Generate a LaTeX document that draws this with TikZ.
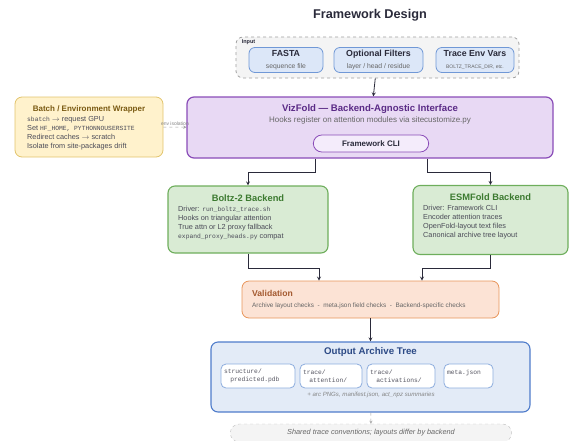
\documentclass[tikz,border=0pt]{standalone}
\usepackage{fontspec}
\setmainfont{Liberation Sans}
\setsansfont{Liberation Sans}
\setmonofont{Liberation Mono}
\usetikzlibrary{arrows, positioning, calc, shapes.misc}
\usepackage{xcolor}
\definecolor{inkdark}{HTML}{2A2A3A}
\definecolor{subgray}{HTML}{666666}
\definecolor{grpfill}{HTML}{F4F4F4}
\definecolor{grpline}{HTML}{A0A0A0}
\definecolor{bluefill}{HTML}{DCE7F8}
\definecolor{blueline}{HTML}{7098D6}
\definecolor{purpfill}{HTML}{E8D9F4}
\definecolor{purpline}{HTML}{8A4CB8}
\definecolor{purpink}{HTML}{5A2A86}
\definecolor{pillfill}{HTML}{F4ECFB}
\definecolor{yelfill}{HTML}{FFF2CC}
\definecolor{yelline}{HTML}{E2C46C}
\definecolor{yelink}{HTML}{7A5A12}
\definecolor{grnfill}{HTML}{D9EBD4}
\definecolor{grnline}{HTML}{6EAE5C}
\definecolor{grnink}{HTML}{3C7A30}
\definecolor{orgfill}{HTML}{FCE3D5}
\definecolor{orgline}{HTML}{E8955A}
\definecolor{orgink}{HTML}{A45A30}
\definecolor{outfill}{HTML}{E3EBF7}
\definecolor{outline}{HTML}{4F7CCB}
\definecolor{outink}{HTML}{2C4A86}
\newcommand{\mono}[1]{{\ttfamily\fontsize{6.3}{9}\selectfont #1}}
\tikzstyle{grp} = [rectangle, rounded corners=7pt, draw=grpline, dashed, fill=grpfill, thick]
\tikzstyle{inbox} = [rectangle, rounded corners=6pt, draw=blueline, fill=bluefill, thick, align=center, inner sep=0pt]
\tikzstyle{wrapbox} = [rectangle, rounded corners=7pt, draw=yelline, fill=yelfill, thick]
\tikzstyle{vizbox} = [rectangle, rounded corners=7pt, draw=purpline, fill=purpfill, line width=1.2pt]
\tikzstyle{pill} = [rounded rectangle, draw=purpline, fill=pillfill, thick, font=\fontsize{8}{9}\selectfont\bfseries, text=inkdark]
\tikzstyle{backend} = [rectangle, rounded corners=7pt, draw=grnline, fill=grnfill, line width=1.1pt]
\tikzstyle{checkbox} = [rectangle, rounded corners=7pt, draw=orgline, fill=orgfill, thick]
\tikzstyle{archive} = [rectangle, rounded corners=7pt, draw=outline, fill=outfill, line width=1.1pt]
\tikzstyle{leaf} = [rectangle, rounded corners=5pt, draw=blueline!80, fill=white, thick, align=left, inner sep=3pt, minimum height=24pt, font=\ttfamily\fontsize{6.3}{8.5}\selectfont, text=inkdark!80]
\tikzstyle{body} = [anchor=north west, align=left, inner sep=0pt, font=\fontsize{7.3}{9}\selectfont, text=inkdark!85]
\tikzstyle{arrow} = [thick, ->, >=stealth, draw=inkdark]

\begin{document}
\begin{tikzpicture}[x=1pt, y=-1pt]
    \useasboundingbox (0,0) rectangle (573,440);
    \node (title) at (370,15) {\fontsize{12.7}{14}\selectfont\bfseries\color{inkdark}Framework Design};

    % input group
    \node (input) [grp, minimum width=283pt, minimum height=41pt] at (377.5,57.5) {};
    \node [anchor=north west, inner sep=0pt, font=\fontsize{5.5}{6}\selectfont\bfseries, text=inkdark] at ($(input.north west)+(6,3)$) {Input};
    \node (fasta) [inbox, minimum width=74pt, minimum height=25pt] at (286,60) {\fontsize{8.8}{10}\selectfont\bfseries\color{inkdark}FASTA\\\fontsize{6.8}{7}\selectfont\color{subgray}sequence file};
    \node (filt) [inbox, minimum width=89pt, minimum height=25pt] at (378.5,60) {\fontsize{8.8}{10}\selectfont\bfseries\color{inkdark}Optional Filters\\\fontsize{6.8}{7}\selectfont\color{subgray}layer / head / residue};
    \node (envv) [inbox, minimum width=78pt, minimum height=25pt] at (475,60) {\fontsize{8.8}{10}\selectfont\bfseries\color{inkdark}Trace Env Vars\\\fontsize{5}{7}\selectfont\color{subgray}BOLTZ\_TRACE\_DIR, etc.};

    % interface
    \node (viz) [vizbox, minimum width=366pt, minimum height=61pt] at (370,127.5) {};
    \node [font=\fontsize{9.6}{11}\selectfont\bfseries, text=purpink] at ($(viz.north)+(0,13)$) {VizFold --- Backend-Agnostic Interface};
    \node [font=\fontsize{8}{9}\selectfont, text=subgray] at ($(viz.north)+(0,24)$) {Hooks register on attention modules via sitecustomize.py};
    \node (cli) [pill, minimum width=122pt, minimum height=17pt] at (371,143.5) {Framework CLI};

    % wrapper
    \node (wrap) [wrapbox, minimum width=148pt, minimum height=60pt] at (89,127) {};
    \node [font=\fontsize{8}{9}\selectfont\bfseries, text=yelink] at ($(wrap.north)+(0,13)$) {Batch / Environment Wrapper};
    \node [body] at (27,116.5) {\mono{sbatch} $\rightarrow$ request GPU\\
        Set \mono{HF\_HOME, PYTHONNOUSERSITE}\\
        Redirect caches $\rightarrow$ scratch\\
        Isolate from site-packages drift};

    % backends
    \node (boltz) [backend, minimum width=160pt, minimum height=67pt] at (248,219.5) {};
    \node [font=\fontsize{9.3}{10}\selectfont\bfseries, text=grnink] at ($(boltz.north)+(0,13)$) {Boltz-2 Backend};
    \node [body] at (178,206) {Driver: \mono{run\_boltz\_trace.sh}\\
        Hooks on triangular attention\\
        True attn or L2 proxy fallback\\
        \mono{expand\_proxy\_heads.py} compat};
    \node (esm) [backend, minimum width=155pt, minimum height=69pt] at (490.5,220) {};
    \node [font=\fontsize{9.3}{10}\selectfont\bfseries, text=grnink] at ($(esm.north)+(0,12)$) {ESMFold Backend};
    \node [body] at (423,205) {Driver: Framework CLI\\
        Encoder attention traces\\
        OpenFold-layout text files\\
        Canonical archive tree layout};

    % checks
    \node (valid) [checkbox, minimum width=257pt, minimum height=37pt] at (370.5,299.5) {};
    \node [anchor=west, inner sep=0pt, font=\fontsize{8.6}{9}\selectfont\bfseries, text=orgink] at (252,293) {Validation};
    \node [anchor=west, inner sep=0pt, font=\fontsize{6.4}{7}\selectfont, text=subgray] at (252,305.5) {Archive layout checks~~-~~meta.json field checks~~-~~Backend-specific checks};

    % output
    \node (out) [archive, minimum width=319pt, minimum height=70pt] at (370.5,377) {};
    \node [font=\fontsize{9.7}{11}\selectfont\bfseries, text=outink] at ($(out.north)+(0,11)$) {Output Archive Tree};
    \node (pdb) [leaf, text width=68pt] at (258,376) {structure/\\~~~predicted.pdb};
    \node (attn) [leaf, text width=56pt] at (331,376) {trace/\\~~~attention/};
    \node (acts) [leaf, text width=62pt] at (401,376) {trace/\\~~~activations/};
    \node (meta) [leaf, text width=43pt] at (468.5,376) {meta.json\\\mbox{}};
    \node [font=\fontsize{6.1}{7}\selectfont\itshape, text=subgray!80] at (371,395) {+ arc PNGs, manifest.json, act\_npz summaries};

    % note
    \node (note) [rounded rectangle, draw=grpline!70, dashed, fill=grpfill, minimum width=288pt, minimum height=18pt, font=\fontsize{7.3}{8}\selectfont\itshape, text=subgray] at (371,433) {Shared trace conventions; layouts differ by backend};

    % connectors
    \draw [arrow] (input) -- (viz);
    \draw [->, >=stealth, dashed, draw=grpline] (wrap) -- node[above, inner sep=1pt, font=\fontsize{5}{5}\selectfont, text=subgray!80] {env isolation} (viz);
    \draw [arrow] ($(viz.south)+(-55,0)$) -- ++(0,14) -| (boltz.north);
    \draw [arrow] ($(viz.south)+(57,0)$) -- ++(0,14) -| (esm.north);
    \draw [arrow] (boltz.south) -- ++(0,15) -| ($(valid.north)+(-51.5,0)$);
    \draw [arrow] (esm.south) -- ++(0,13) -| ($(valid.north)+(51.5,0)$);
    \draw [arrow] (valid) -- (out);
    \draw [->, >=stealth, dashed, draw=grpline] (out) -- (note);
\end{tikzpicture}
\end{document}
